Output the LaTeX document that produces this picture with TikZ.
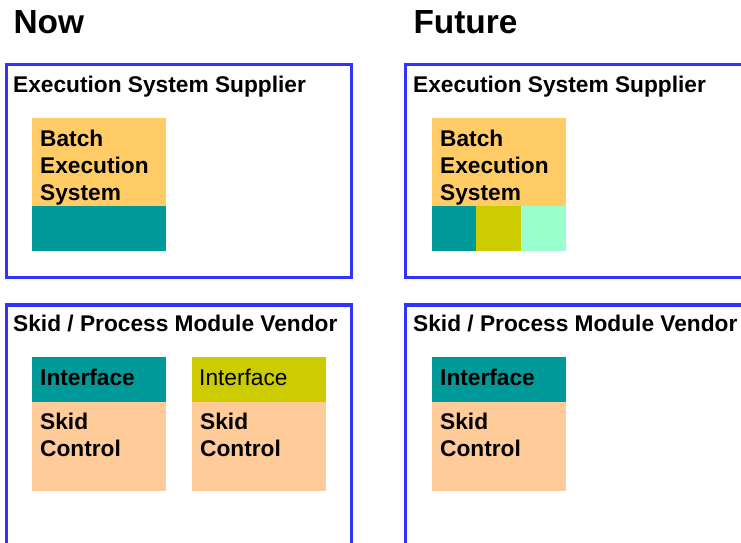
\documentclass[tikz,border=0pt]{standalone}
\usepackage{fontspec}
\setmainfont{Liberation Sans}
\definecolor{borderblue}{HTML}{3333FF}
\definecolor{batchorange}{HTML}{FFCC66}
\definecolor{ifteal}{HTML}{009999}
\definecolor{ifyellow}{HTML}{CCCC00}
\definecolor{ifmint}{HTML}{99FFCC}
\definecolor{skidpeach}{HTML}{FFCC99}
\tikzset{
  frame/.style={draw=borderblue, line width=3.3pt},
  title/.style={anchor=base west, inner sep=0pt, font=\bfseries\fontsize{33.4}{40}\selectfont},
  lbl/.style={anchor=base west, inner sep=0pt, font=\bfseries\fontsize{22.7}{27}\selectfont},
  lblreg/.style={anchor=base west, inner sep=0pt, font=\fontsize{22.7}{27}\selectfont}
}
\begin{document}
\begin{tikzpicture}[x=1pt,y=-1pt]
\useasboundingbox (0,0) rectangle (741,542);
\clip (0,0) rectangle (741,542);
\fill[white] (0,0) rectangle (741,542);
% titles
\node[title] (now) at (13.3,33) {Now};
\node[title] (future) at (413.3,33) {Future};
% frames
\draw[frame] (6.5,64.5) rectangle (351.5,277.5);
\draw[frame] (405.7,64.5) rectangle (770,277.5);
\draw[frame] (6.5,305) rectangle (351.5,545.2);
\draw[frame] (405.7,305) rectangle (770,545.2);
% top left
\fill[batchorange] (32,118) rectangle (166,206);
\fill[ifteal] (32,206) rectangle (166,251);
% top right
\fill[batchorange] (432,118) rectangle (566,206);
\fill[ifteal] (432,206) rectangle (476,251);
\fill[ifyellow] (476,206) rectangle (521,251);
\fill[ifmint] (521,206) rectangle (566,251);
% bottom left
\fill[ifteal] (32,357) rectangle (166,402);
\fill[skidpeach] (32,402) rectangle (166,491);
\fill[ifyellow] (192,357) rectangle (326,402);
\fill[skidpeach] (192,402) rectangle (326,491);
% bottom right
\fill[ifteal] (432,357) rectangle (566,402);
\fill[skidpeach] (432,402) rectangle (566,491);
% labels
\node[lbl] (essL) at (13,92) {Execution System Supplier};
\node[lbl] (essR) at (413,92) {Execution System Supplier};
\node[lbl] (b1L) at (40,146) {Batch};
\node[lbl] (b2L) at (40,173) {Execution};
\node[lbl] (b3L) at (40,200) {System};
\node[lbl] (b1R) at (440,146) {Batch};
\node[lbl] (b2R) at (440,173) {Execution};
\node[lbl] (b3R) at (440,200) {System};
\node[lbl] (spmL) at (13,331.5) {Skid / Process Module Vendor};
\node[lbl] (spmR) at (413,331.5) {Skid / Process Module Vendor};
\node[lbl] (if1) at (40,385) {Interface};
\node[lbl] (sk1) at (40,429.5) {Skid};
\node[lbl] (ct1) at (40,456.5) {Control};
\node[lblreg] (if2) at (199,385) {Interface};
\node[lbl] (sk2) at (200,429.5) {Skid};
\node[lbl] (ct2) at (200,456.5) {Control};
\node[lbl] (if3) at (440,385) {Interface};
\node[lbl] (sk3) at (440,429.5) {Skid};
\node[lbl] (ct3) at (440,456.5) {Control};
\end{tikzpicture}
\end{document}
